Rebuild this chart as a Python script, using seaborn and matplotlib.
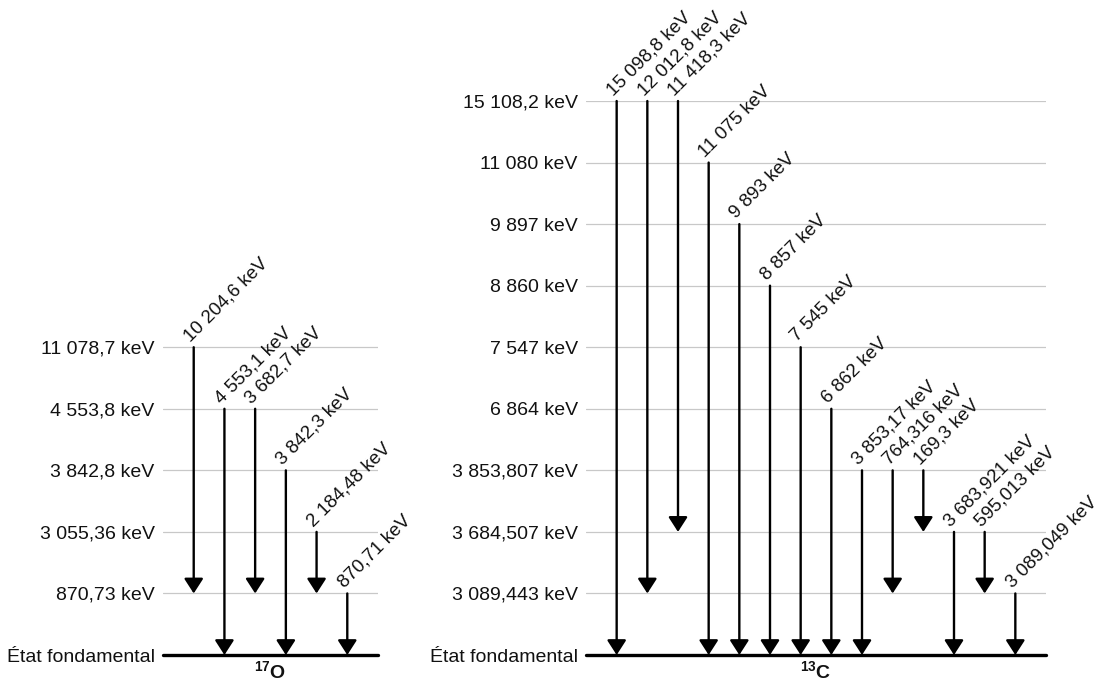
import matplotlib
matplotlib.use("Agg")
import matplotlib.pyplot as plt
import seaborn as sns

# ---------------- data ----------------
o17_levels = ["État fondamental", "870,73 keV", "3 055,36 keV", "3 842,8 keV",
              "4 553,8 keV", "11 078,7 keV"]
o17_from = [5, 4, 4, 3, 2, 1]
o17_to = [1, 0, 1, 0, 1, 0]
o17_labels = ["10 204,6 keV", "4 553,1 keV", "3 682,7 keV", "3 842,3 keV",
              "2 184,48 keV", "870,71 keV"]

c13_levels = ["État fondamental", "3 089,443 keV", "3 684,507 keV", "3 853,807 keV",
              "6 864 keV", "7 547 keV", "8 860 keV", "9 897 keV", "11 080 keV",
              "15 108,2 keV"]
c13_from = [9, 9, 9, 8, 7, 6, 5, 4, 3, 3, 3, 2, 2, 1]
c13_to = [0, 1, 2, 0, 0, 0, 0, 0, 0, 1, 2, 0, 1, 0]
c13_labels = ["15 098,8 keV", "12 012,8 keV", "11 418,3 keV", "11 075 keV",
              "9 893 keV", "8 857 keV", "7 545 keV", "6 862 keV", "3 853,17 keV",
              "764,316 keV", "169,3 keV", "3 683,921 keV", "595,013 keV",
              "3 089,049 keV"]

nuclei = [r"$\mathbf{^{17}O}$", r"$\mathbf{^{13}C}$"]

# ---------------- style ----------------
sns.set_theme(style="white")
plt.rcParams["font.family"] = ["Liberation Sans", "DejaVu Sans"]
plt.rcParams["mathtext.fontset"] = "custom"
plt.rcParams["mathtext.rm"] = "Liberation Sans"
plt.rcParams["mathtext.bf"] = "Liberation Sans:bold"

W, H = 1101, 682
fig = plt.figure(figsize=(W / 100, H / 100), dpi=100)
fig.patch.set_facecolor("white")

ax_left = fig.add_axes([163 / W, 27 / H, 215 / W, 554 / H])
ax_right = fig.add_axes([586 / W, 27 / H, 460 / W, 554 / H])

FS = 14
FS_ROT = 13.5


def draw_scheme(ax, levels, frm, to, labels, nucleus):
    n_arr = len(frm)
    ax.set_xlim(0, n_arr + 1)
    ax.set_ylim(0, 9)
    ax.set_facecolor("none")
    for s in ax.spines.values():
        s.set_visible(False)
    ax.set_xticks([])
    ax.set_yticks(range(len(levels)))
    ax.set_yticklabels(levels, fontsize=FS, color="#111111")
    ax.tick_params(axis="y", length=0, pad=6)
    # level lines
    for i in range(1, len(levels)):
        ax.axhline(i, color="#c8c8c8", lw=0.9, zorder=1)
    ax.axhline(0, color="black", lw=2.4, zorder=3, clip_on=False)
    # transitions
    for k, (a, b, lab) in enumerate(zip(frm, to, labels)):
        x = k + 1
        ax.annotate("", xy=(x, b), xytext=(x, a), annotation_clip=False,
                    arrowprops=dict(arrowstyle="-|>,head_length=0.9,head_width=0.58",
                                    mutation_scale=10, lw=1.7, color="black",
                                    shrinkA=0, shrinkB=0), zorder=4)
        ax.annotate(lab, xy=(x, a), xytext=(-2.5, 3.5), textcoords="offset points",
                    rotation=45, rotation_mode="anchor", ha="left", va="baseline",
                    fontsize=FS_ROT, color="#111111", annotation_clip=False)
    ax.annotate(nucleus, xy=((n_arr + 1) / 2, 0), xytext=(0, -4),
                textcoords="offset points", ha="center", va="top",
                fontsize=FS, color="#111111", annotation_clip=False)


draw_scheme(ax_left, o17_levels, o17_from, o17_to, o17_labels, nuclei[0])
draw_scheme(ax_right, c13_levels, c13_from, c13_to, c13_labels, nuclei[1])

fig.savefig("out.png", dpi=100, facecolor="white")
